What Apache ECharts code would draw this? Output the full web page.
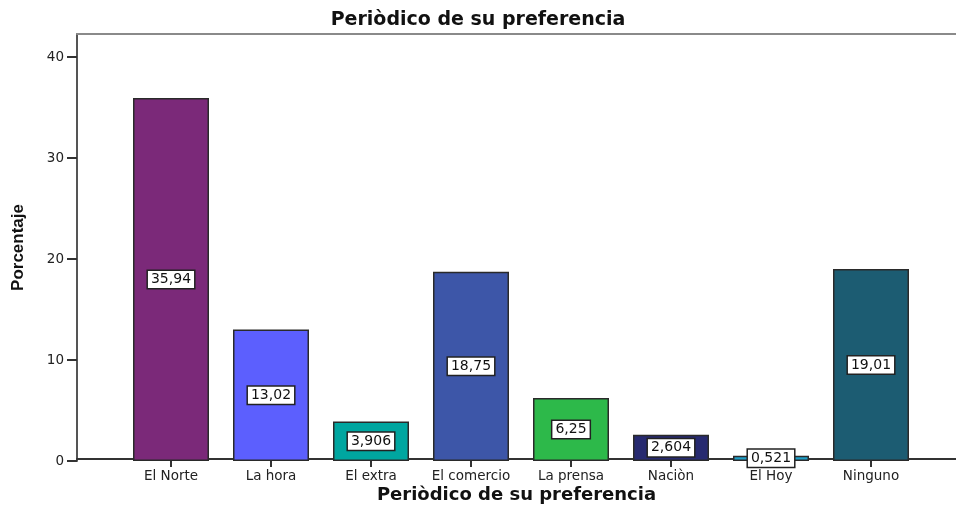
<!DOCTYPE html>
<html>
<head>
<meta charset="utf-8">
<script src="https://cdn.jsdelivr.net/npm/echarts@6/dist/echarts.min.js"></script>
<style>
  html, body { margin: 0; padding: 0; background: #fff; }
  #chart { width: 956px; height: 509px; }
</style>
</head>
<body>
<div id="chart"></div>
<script>
// datos del gráfico
const categories = ['El Norte', 'La hora', 'El extra', 'El comercio', 'La prensa', 'Naciòn', 'El Hoy', 'Ninguno'];
const percentages = [35.94, 13.02, 3.906, 18.75, 6.25, 2.604, 0.521, 19.01];
const barColors = ['#7B2979', '#5C5FFE', '#00A6A0', '#3D56A8', '#2DB94A', '#272A70', '#1F9FC8', '#1C5C72'];
const yTicks = [0, 10, 20, 30, 40];

const chart = echarts.init(document.getElementById('chart'));

const axisFont = { color: '#222', fontSize: 13.5, fontFamily: 'DejaVu Sans, sans-serif' };

chart.setOption({
  animation: false,
  title: {
    text: 'Periòdico de su preferencia',
    left: 'center',
    top: 6,
    textStyle: { color: '#111', fontSize: 19, fontWeight: 'bold', fontFamily: 'DejaVu Sans' }
  },
  grid: [
    // barras
    { left: 121, right: 35, top: 34, bottom: 48 },
    // marco (línea inferior y superior hasta el borde)
    { left: 77, right: -12, top: 34, bottom: 48 }
  ],
  xAxis: [
    {
      type: 'category',
      gridIndex: 0,
      data: categories,
      axisLine: { show: false },
      axisTick: { show: true, alignWithLabel: true, length: 6, lineStyle: { color: '#333', width: 2 } },
      axisLabel: Object.assign({ margin: 8, interval: 0, hideOverlap: false }, axisFont)
    },
    {
      type: 'value',
      gridIndex: 1,
      min: 0, max: 1,
      position: 'bottom',
      name: 'Periòdico de su preferencia',
      nameLocation: 'middle',
      nameGap: 27,
      nameTextStyle: { color: '#111', fontSize: 18, fontWeight: 'bold', fontFamily: 'DejaVu Sans' },
      axisLine: { show: true, lineStyle: { color: '#333', width: 2 } },
      axisTick: { show: false },
      axisLabel: { show: false },
      splitLine: { show: false }
    },
    {
      type: 'value',
      gridIndex: 1,
      min: 0, max: 1,
      position: 'top',
      axisLine: { show: true, lineStyle: { color: '#8a8a8a', width: 2 } },
      axisTick: { show: false },
      axisLabel: { show: false },
      splitLine: { show: false }
    }
  ],
  yAxis: [
    {
      type: 'value',
      gridIndex: 0,
      min: 0,
      max: 42.28,
      interval: 10,
      offset: 44,
      name: 'Porcentaje',
      nameLocation: 'middle',
      nameRotate: 90,
      nameGap: 50,
      nameTextStyle: { color: '#111', fontSize: 17, fontWeight: 'bold', fontFamily: 'Liberation Sans, Arial, sans-serif' },
      axisLine: { show: true, lineStyle: { color: '#555', width: 2 } },
      axisTick: {
        show: true, length: 10, lineStyle: { color: '#333', width: 2 },
        customValues: yTicks
      },
      axisLabel: Object.assign({
        margin: 13,
        customValues: yTicks
      }, axisFont),
      splitLine: { show: false }
    },
    {
      type: 'value',
      gridIndex: 1,
      min: 0, max: 1,
      show: false
    }
  ],
  series: [{
    type: 'bar',
    xAxisIndex: 0,
    yAxisIndex: 0,
    barWidth: '76%',
    data: percentages.map((v, i) => ({
      value: v,
      itemStyle: { color: barColors[i] }
    })),
    itemStyle: { borderColor: '#2a2a2a', borderWidth: 1.5 },
    label: {
      show: true,
      position: 'inside',
      formatter: p => String(p.value).replace('.', ','),
      color: '#111',
      fontSize: 14,
      fontFamily: 'DejaVu Sans, sans-serif',
      backgroundColor: '#fff',
      borderColor: '#222',
      borderWidth: 1.5,
      padding: [2, 3, 1, 3]
    }
  }]
});

window.addEventListener('resize', () => chart.resize());
</script>
</body>
</html>
